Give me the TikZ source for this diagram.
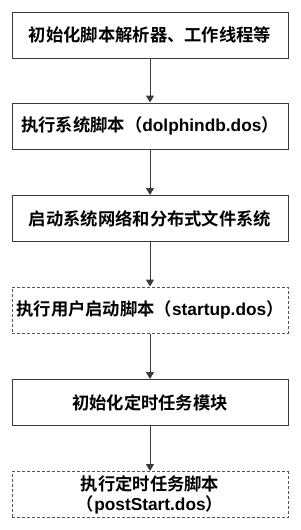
\documentclass[tikz,border=0pt]{standalone}
\usepackage{fontspec}
\newfontfamily\cjk{Noto Sans CJK SC}[BoldFont={Noto Sans CJK SC Bold}]
\newfontfamily\latf{Liberation Sans}
\newcommand{\lt}[1]{{\latf\bfseries #1}}
\usetikzlibrary{arrows.meta}
\definecolor{edge}{HTML}{3A3A3A}
\definecolor{dash}{HTML}{555555}
\tikzset{
  stepbox/.style={draw=edge, line width=1pt, minimum width=276pt, minimum height=46pt, inner sep=0pt, align=center, font=\cjk\bfseries\fontsize{17.3}{20}\selectfont, text=black},
  optbox/.style={stepbox, draw=dash, dash pattern=on 3pt off 2pt},
  conn/.style={draw=edge, line width=1pt, -{Triangle[length=7pt,width=8pt]}}
}
\begin{document}
\begin{tikzpicture}[x=1pt,y=-1pt]
\useasboundingbox (0,0) rectangle (300,530);
\node[stepbox] (a) at (150,35) {初始化脚本解析器、工作线程等};
\node[stepbox] (b) at (150,126) {执行系统脚本（\lt{dolphindb.dos}）};
\node[stepbox] (c) at (150,218.5) {启动系统网络和分布式文件系统};
\node[optbox] (d) at (150,310) {执行用户启动脚本（\lt{startup.dos}）};
\node[stepbox] (e) at (150,402.5) {初始化定时任务模块};
\node[optbox] (f) at (150,494.5) {执行定时任务脚本\\（\lt{postStart.dos}）};
\draw[conn] (a) -- (b);
\draw[conn] (b) -- (c);
\draw[conn] (c) -- (d);
\draw[conn] (d) -- (e);
\draw[conn] (e) -- (f);
\end{tikzpicture}
\end{document}
